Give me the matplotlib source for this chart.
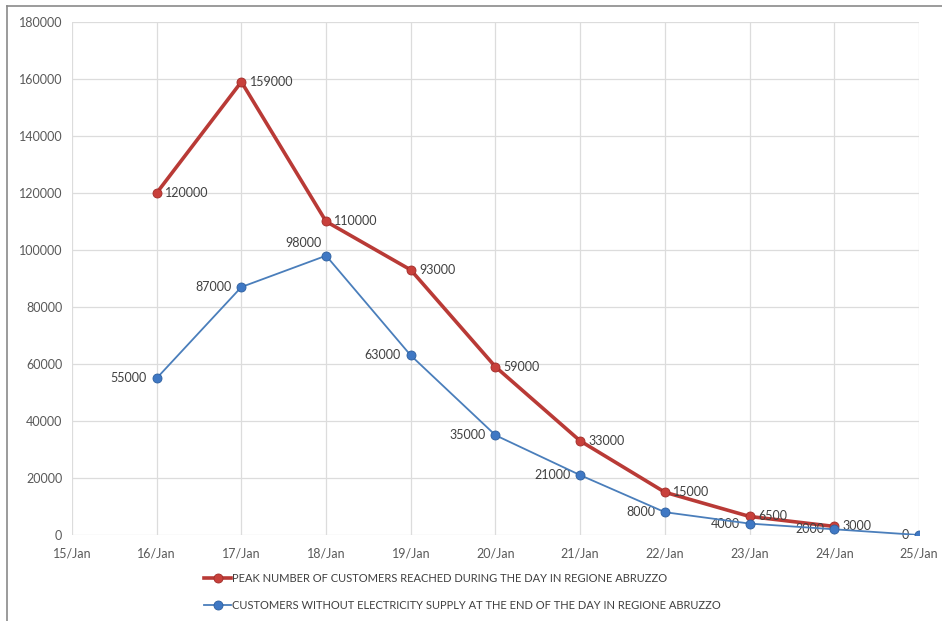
import matplotlib.pyplot as plt
from matplotlib.lines import Line2D

plt.rcParams["font.family"] = ["Lato", "DejaVu Sans"]

dates = ["15/Jan", "16/Jan", "17/Jan", "18/Jan", "19/Jan", "20/Jan",
         "21/Jan", "22/Jan", "23/Jan", "24/Jan", "25/Jan"]
peak_idx = [1, 2, 3, 4, 5, 6, 7, 8, 9]
peak_vals = [120000, 159000, 110000, 93000, 59000, 33000, 15000, 6500, 3000]
end_idx = [1, 2, 3, 4, 5, 6, 7, 8, 9, 10]
end_vals = [55000, 87000, 98000, 63000, 35000, 21000, 8000, 4000, 2000, 0]
peak_label = "PEAK NUMBER OF CUSTOMERS REACHED DURING THE DAY IN REGIONE ABRUZZO"
end_label = "CUSTOMERS WITHOUT ELECTRICITY SUPPLY AT THE END OF THE DAY IN REGIONE ABRUZZO"
yticks = list(range(0, 180001, 20000))

RED = "#b93a36"
BLUE = "#4a7ebb"
TXT = "#595959"

fig = plt.figure(figsize=(9.42, 6.21), dpi=100)
ax = fig.add_axes([0.0764, 0.1385, 0.8992, 0.8261])

l_peak, = ax.plot(peak_idx, peak_vals, color=RED, lw=2.6, marker="o", ms=6.5,
                  mfc="#c8403b", mec="#a02c28", mew=0.6, label=peak_label, zorder=3)
l_end, = ax.plot(end_idx, end_vals, color=BLUE, lw=1.3, marker="o", ms=6.5,
                 mfc="#3f78c4", mec="#2d5f9e", mew=0.6, label=end_label, zorder=4)

for x, v in zip(peak_idx, peak_vals):
    ax.annotate(str(v), (x, v), xytext=(6, 0), textcoords="offset points",
                ha="left", va="center", fontsize=9, color="#404040")

for x, v in zip(end_idx, end_vals):
    if v == 98000:
        ax.annotate(str(v), (x, v), xytext=(-3, 9), textcoords="offset points",
                    ha="right", va="center", fontsize=9, color="#404040")
    else:
        ax.annotate(str(v), (x, v), xytext=(-7, 0), textcoords="offset points",
                    ha="right", va="center", fontsize=9, color="#404040")

ax.set_xlim(0, 10)
ax.set_ylim(0, 180000)
ax.set_xticks(range(len(dates)))
ax.set_xticklabels(dates)
ax.set_yticks(yticks)
ax.set_yticklabels([str(t) for t in yticks])
ax.tick_params(axis="both", length=0, labelsize=9, labelcolor=TXT)
ax.tick_params(axis="x", pad=9)
ax.tick_params(axis="y", pad=7)
ax.grid(True, color="#dcdcdc", lw=0.9)
ax.set_axisbelow(True)
for s in ax.spines.values():
    s.set_visible(False)

ax.legend(handles=[l_peak, l_end], loc="upper left",
          bbox_to_anchor=(0.217, 0.078), bbox_transform=fig.transFigure,
          frameon=False, fontsize=8, handlelength=2.4, handletextpad=0.1,
          labelspacing=1.45, borderpad=0, borderaxespad=0, labelcolor="#404040")

# outer frame (left and top edges visible in the reference)
fig.add_artist(Line2D([0.0075, 0.0075], [0.0, 0.99], transform=fig.transFigure,
                      color="#8a8a8a", lw=1.2))
fig.add_artist(Line2D([0.0075, 1.0], [0.99, 0.99], transform=fig.transFigure,
                      color="#8a8a8a", lw=1.2))

fig.savefig("out.png", dpi=100)
